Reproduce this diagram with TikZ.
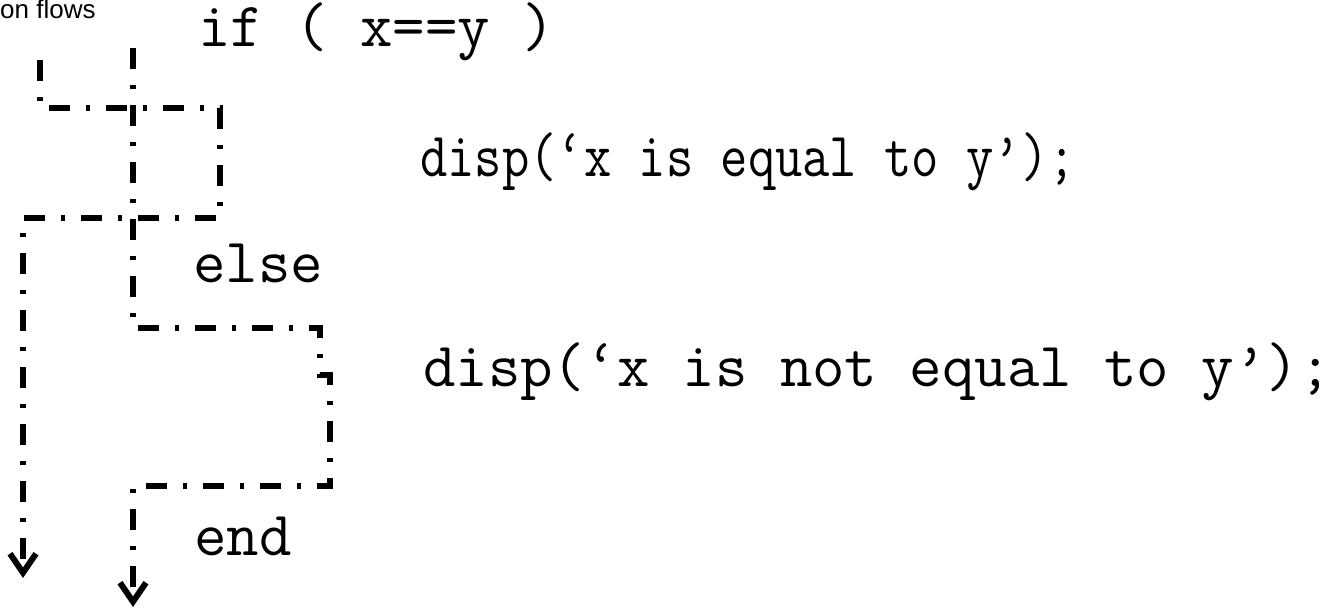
\documentclass[tikz,border=0pt]{standalone}
\usepackage{fontspec}
\setmainfont{Liberation Sans}
\usetikzlibrary{arrows.meta}

\begin{document}
\begin{tikzpicture}[x=1pt, y=-1pt,
  >={Straight Barb[length=19pt, width=26pt]},
  flow/.style={line width=6pt, dash pattern=on 21pt off 16pt on 4pt off 16pt},
  code/.style={font=\ttfamily\fontsize{63}{66}\selectfont, anchor=base west, inner sep=0pt},
  note/.style={font=\fontsize{26}{28}\selectfont, anchor=base west, inner sep=0pt}]
  \useasboundingbox (0,0) rectangle (1340,610);
  % the code
  \node[note] (title) at (0,19) {on flows};
  \node[code] (cond) at (198,47) {if ( x==y )};
  \node[code] (yes) at (420,176) {\scalebox{0.842}[1]{disp(‘x is equal to y’);}};
  \node[code] (els) at (193,282) {else};
  \node[code] (no) at (423,386) {disp(‘x is not equal to y’);};
  \node[code] (fin) at (194,555) {end};
  % corners of the true branch
  \coordinate (a0) at (40,60);
  \coordinate (a1) at (40,108);
  \coordinate (a2) at (220,108);
  \coordinate (a3) at (220,218);
  \coordinate (a4) at (23,218);
  \coordinate (a5) at (23,578);
  % corners of the false branch
  \coordinate (b0) at (133,48);
  \coordinate (b1) at (133,328);
  \coordinate (b2) at (320,328);
  \coordinate (b3) at (320,375);
  \coordinate (b4) at (330,375);
  \coordinate (b5) at (330,486);
  \coordinate (b6) at (133,486);
  \coordinate (b7) at (133,607);
  \draw[flow, ->] (a0) -- (a1) -- (a2) -- (a3) -- (a4) -- (a5);
  \draw[flow, ->] (b0) -- (b1) -- (b2) -- (b3) -- (b4) -- (b5) -- (b6) -- (b7);
\end{tikzpicture}
\end{document}
